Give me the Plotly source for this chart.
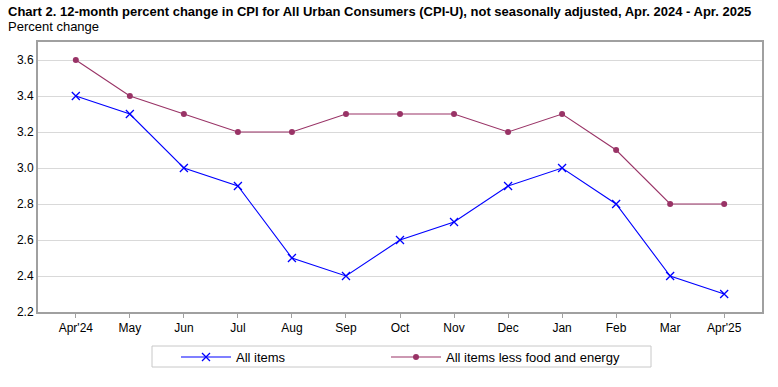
import plotly.graph_objects as go

months = ["Apr'24", "May", "Jun", "Jul", "Aug", "Sep", "Oct", "Nov", "Dec", "Jan", "Feb", "Mar", "Apr'25"]
all_items = [3.4, 3.3, 3.0, 2.9, 2.5, 2.4, 2.6, 2.7, 2.9, 3.0, 2.8, 2.4, 2.3]
core = [3.6, 3.4, 3.3, 3.2, 3.2, 3.3, 3.3, 3.3, 3.2, 3.3, 3.1, 2.8, 2.8]
y_ticks = [2.2, 2.4, 2.6, 2.8, 3.0, 3.2, 3.4, 3.6]

x = list(range(len(months)))
FONT = "Liberation Sans, Arial, sans-serif"

# body margin is removed by the post script, so figure pixels == screen pixels
W, H = 778, 387
S_LEFT, S_RIGHT, S_TOP, S_BOTTOM = 38, 762, 42, 312
L = S_LEFT
R = W - S_RIGHT
T = S_TOP
B = H - S_BOTTOM
PW, PH = W - L - R, H - T - B


def px_x(p):
    return (p - L) / PW


def px_y(p):
    return (H - B - p) / PH


fig = go.Figure()
fig.add_trace(go.Scatter(
    x=x, y=all_items, name="All items", mode="lines+markers",
    line=dict(color="#0000ff", width=1.1),
    marker=dict(symbol="x-thin", size=8, line=dict(color="#0000ff", width=1.3), color="#0000ff"),
    legend="legend",
))
fig.add_trace(go.Scatter(
    x=x, y=core, name="All items less food and energy", mode="lines+markers",
    line=dict(color="#993366", width=1.1),
    marker=dict(symbol="circle", size=6, color="#993366"),
    legend="legend2",
))

leg_common = dict(
    orientation="h", xanchor="left", yanchor="middle",
    borderwidth=0, bgcolor="rgba(0,0,0,0)",
    font=dict(family=FONT, size=13), itemwidth=50,
)

fig.update_layout(
    width=W, height=H,
    margin=dict(l=L, r=R, t=T, b=B, autoexpand=False),
    paper_bgcolor="white", plot_bgcolor="white",
    font=dict(family=FONT, size=12, color="#000000"),
    showlegend=True,
    legend=dict(x=px_x(176), y=px_y(357), **leg_common),
    legend2=dict(x=px_x(386), y=px_y(357), **leg_common),
    shapes=[
        dict(type="rect", xref="paper", yref="paper",
             x0=px_x(152), x1=px_x(651), y0=px_y(367), y1=px_y(346),
             line=dict(color="#c8c8c8", width=1), fillcolor="rgba(0,0,0,0)", layer="below"),
    ],
    annotations=[
        dict(text="<b>Chart 2. 12-month percent change in CPI for All Urban Consumers (CPI-U), not seasonally adjusted, Apr. 2024 - Apr. 2025</b>",
             xref="paper", yref="paper", x=px_x(6), y=px_y(12), xanchor="left", yanchor="middle",
             showarrow=False, font=dict(family=FONT, size=13)),
        dict(text="Percent change", xref="paper", yref="paper", x=px_x(6), y=px_y(27),
             xanchor="left", yanchor="middle", showarrow=False,
             font=dict(family=FONT, size=13)),
    ],
)
fig.update_xaxes(
    range=[-0.7, 12.7], tickmode="array", tickvals=x, ticktext=months,
    showgrid=False, showline=True, linecolor="#a0a0a0", linewidth=2, mirror=True,
    ticks="outside", ticklen=4, tickcolor="#a0a0a0", zeroline=False,
    tickfont=dict(size=12), automargin=False,
)
fig.update_yaxes(
    range=[2.2, 3.7], tickmode="array", tickvals=y_ticks,
    ticktext=[f"{v:.1f}" for v in y_ticks],
    showgrid=True, gridcolor="#d9d9d9", gridwidth=1,
    showline=True, linecolor="#a0a0a0", linewidth=2, mirror=True,
    ticks="", zeroline=False, tickfont=dict(size=12), automargin=False,
)

fig.write_html(
    "out.html",
    config={"displayModeBar": False},
    post_script="document.body.style.margin='0';document.body.style.overflow='hidden';",
)
